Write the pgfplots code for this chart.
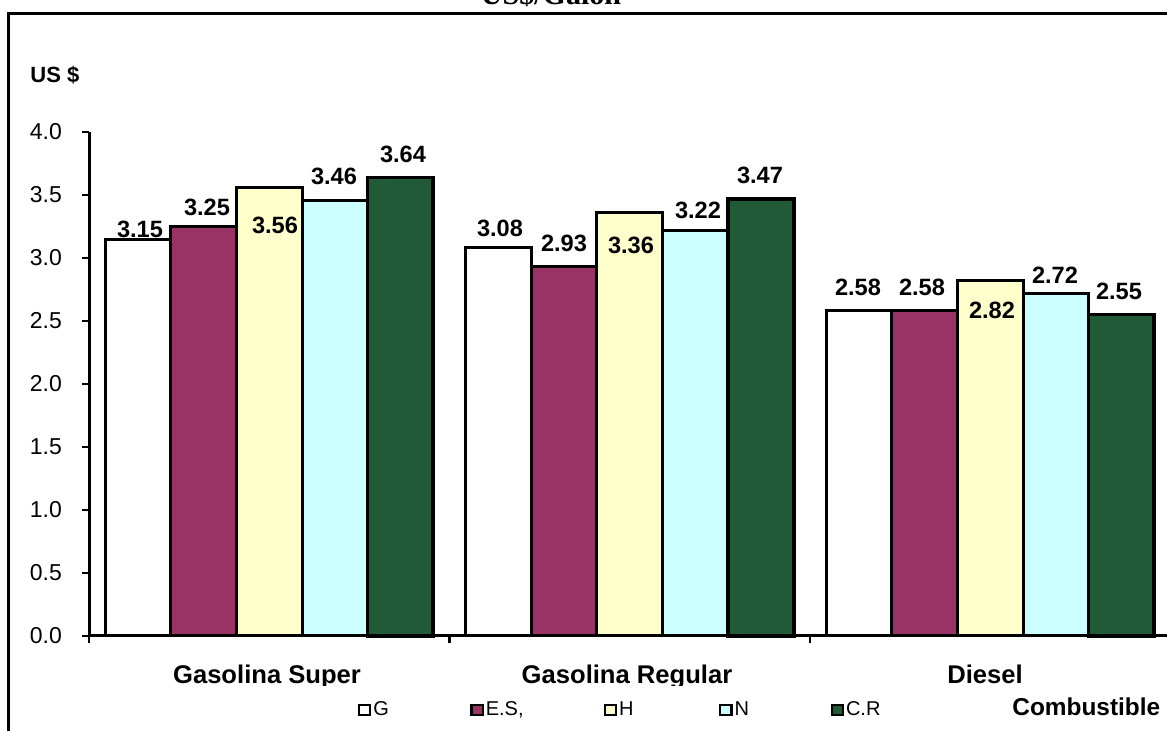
\documentclass[border=0pt]{standalone}
\usepackage{fontspec}
\setmainfont{Liberation Sans}
\newfontfamily\titlefont{Liberation Serif}
\usepackage{pgfplots}
\pgfplotsset{compat=1.18}
\usepackage{pgfplotstable}

\definecolor{cG}{HTML}{FFFFFF}
\definecolor{cES}{HTML}{993366}
\definecolor{cH}{HTML}{FFFFCC}
\definecolor{cN}{HTML}{CCFFFF}
\definecolor{cCR}{HTML}{205A36}

% fuel prices, US$ per gallon
\pgfplotstableread{
x G ES H N CR
0 3.15 3.25 3.56 3.46 3.64
1 3.08 2.93 3.36 3.22 3.47
2 2.58 2.58 2.82 2.72 2.55
}\prices

% where each value label sits
\pgfplotstableread{
x y lab
-0.3585 3.230 3.15
-0.1727 3.405 3.25
0.0160 3.262 3.56
0.1796 3.651 3.46
0.3710 3.825 3.64
0.6401 3.238 3.08
0.8176 3.119 2.93
1.0035 3.103 3.36
1.1893 3.381 3.22
1.3613 3.659 3.47
1.6331 2.770 2.58
1.8107 2.770 2.58
2.0049 2.587 2.82
2.1796 2.865 2.72
2.3571 2.738 2.55
}\labels

\begin{document}
\begin{tikzpicture}
\useasboundingbox (0pt,0pt) rectangle (583.5pt,365.5pt);
\clip (0pt,0pt) rectangle (583.5pt,365.5pt);
\begin{scope}[x=0.5pt,y=0.5pt]
% outer frame
\draw[line width=1.5pt] (8.5,-20) -- (8.5,717.5) -- (1190,717.5);
% title
\node[anchor=base,font=\titlefont\bfseries\fontsize{15}{18}\selectfont,inner sep=0pt] at (551,726) {US\$/Galón};
\end{scope}

\begin{axis}[
  at={(44.5pt,47.5pt)}, anchor=south west,
  scale only axis, width=540.75pt, height=252pt,
  xmin=-0.5, xmax=2.5, ymin=0, ymax=4,
  axis x line=bottom, axis y line=left,
  axis line style={-, line width=1.5pt, black},
  xtick={-0.5,0.5,1.5,2.5}, xticklabels={},
  ytick={0,0.5,...,4},
  tick align=outside, major tick length=3.5pt,
  tick style={line width=1.2pt, black},
  /pgf/number format/assume math mode=true,
  /pgf/number format/fixed,
  /pgf/number format/fixed zerofill,
  /pgf/number format/precision=1,
  tick label style={font=\fontsize{11.5}{13}\selectfont},
  yticklabel style={xshift=-6.5pt},
  clip=false,
  mybar/.style={ybar, bar width=0.182, draw=black, line width=1.5pt,
    legend image code/.code={\draw[##1,draw=black,line width=1.1pt] (0pt,-2.4pt) rectangle (5.6pt,2.4pt);}},
  legend style={at={(0.24873,-0.14683)}, anchor=west, draw=none, fill=none,
    inner sep=0pt, outer sep=0pt, legend columns=-1,
    /tikz/every odd column/.style={column sep=1pt},
    nodes={inner sep=0pt, font=\fontsize{10}{12}\selectfont}},
]
\addplot[mybar, fill=cG, bar shift=-0.364] table[x=x,y=G]{\prices};
\addlegendentry[text width=48.5pt]{G}
\addplot[mybar, fill=cES, bar shift=-0.182] table[x=x,y=ES]{\prices};
\addlegendentry[text width=59pt]{E.S,}
\addplot[mybar, fill=cH, bar shift=0] table[x=x,y=H]{\prices};
\addlegendentry[text width=50pt]{H}
\addplot[mybar, fill=cN, bar shift=0.182] table[x=x,y=N]{\prices};
\addlegendentry[text width=48pt]{N}
\addplot[mybar, fill=cCR, bar shift=0.364, line width=1.8pt] table[x=x,y=CR]{\prices};
\addlegendentry{C.R}
% value labels
\addplot[forget plot, draw=none, mark=none, nodes near coords, point meta=explicit symbolic,
  nodes near coords style={anchor=center, inner sep=0pt, font=\bfseries\fontsize{11.8}{13}\selectfont}]
  table[x=x,y=y,meta=lab]{\labels};
\end{axis}

\begin{scope}[x=0.5pt,y=0.5pt]
% axis texts
\node[anchor=base west,font=\bfseries\fontsize{11}{13}\selectfont,inner sep=0pt] at (30,648) {US \$};
\node[anchor=base west,font=\bfseries\fontsize{12.2}{14}\selectfont,inner sep=0pt] at (1012,15) {Combustible};
\clip (0,45) rectangle (1167,90);
\node[anchor=base,font=\bfseries\fontsize{12.8}{14}\selectfont,inner sep=0pt] at (267,47) {Gasolina Super};
\node[anchor=base,font=\bfseries\fontsize{12.8}{14}\selectfont,inner sep=0pt] at (627,47) {Gasolina Regular};
\node[anchor=base,font=\bfseries\fontsize{12.8}{14}\selectfont,inner sep=0pt] at (985,47) {Diesel};
\end{scope}
\end{tikzpicture}
\end{document}
